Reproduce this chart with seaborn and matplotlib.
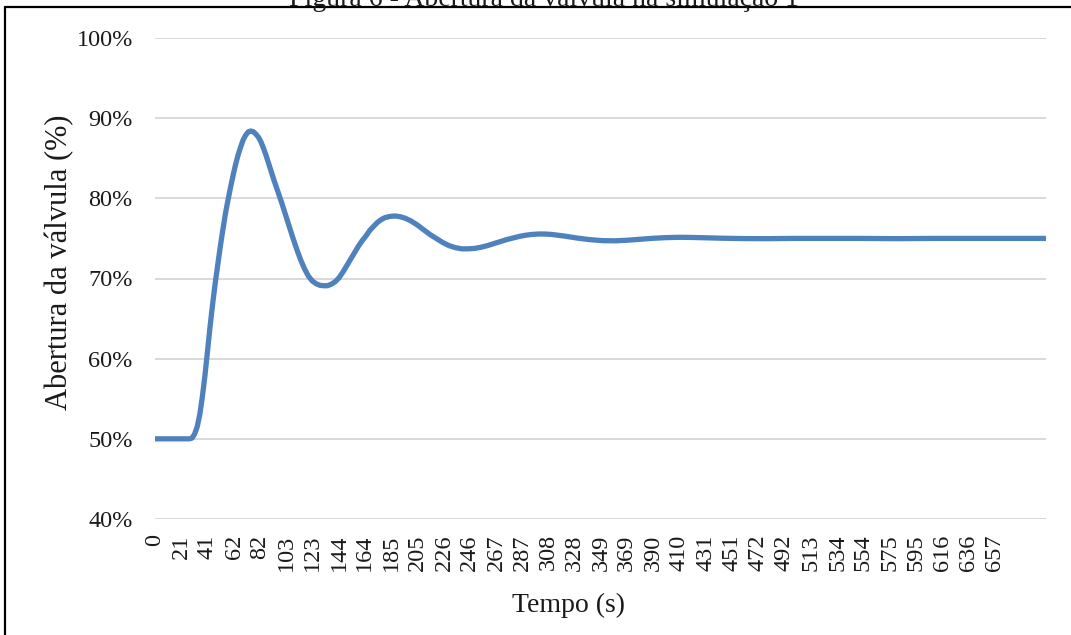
import matplotlib
matplotlib.use("Agg")
import matplotlib.pyplot as plt
from matplotlib.lines import Line2D
import seaborn as sns
import pandas as pd

# Valve opening (%) over time (s) for simulation 1
tempo_s = [0, 10, 20, 27, 29, 31, 33, 35, 37, 39, 41, 43, 45, 47, 49, 51, 53,
           55, 57, 59, 61, 63, 65, 67, 69, 71, 73, 75, 77, 79, 81, 83, 85, 87,
           90, 93, 96, 99, 102, 105, 108, 111, 114, 117, 120, 123, 126, 129,
           132, 135, 138, 141, 144, 147, 150, 153, 156, 159, 162, 165, 168,
           171, 174, 177, 180, 184, 188, 192, 196, 200, 205, 210, 215, 220,
           225, 230, 235, 240, 245, 250, 255, 260, 265, 270, 275, 280, 285,
           290, 295, 300, 305, 310, 315, 320, 330, 340, 350, 360, 370, 380,
           390, 400, 410, 420, 430, 445, 460, 480, 500, 520, 550, 580, 610,
           650, 697]
abertura_pct = [50.0, 50.0, 50.0, 50.0, 50.1, 50.6, 51.5, 53.0, 55.2, 57.8,
                60.8, 63.9, 66.7, 69.3, 71.6, 73.9, 76.0, 78.0, 79.7, 81.3,
                82.8, 84.2, 85.4, 86.4, 87.3, 87.9, 88.3, 88.4, 88.3, 88.0,
                87.6, 87.0, 86.2, 85.3, 83.8, 82.3, 80.9, 79.5, 78.0, 76.5,
                75.0, 73.6, 72.3, 71.2, 70.3, 69.7, 69.35, 69.15, 69.1, 69.1,
                69.3, 69.6, 70.1, 70.8, 71.6, 72.4, 73.2, 74.0, 74.7, 75.3,
                76.0, 76.5, 77.0, 77.35, 77.6, 77.75, 77.8, 77.7, 77.5, 77.2,
                76.7, 76.1, 75.5, 75.0, 74.5, 74.1, 73.85, 73.7, 73.7, 73.75,
                73.9, 74.1, 74.35, 74.6, 74.85, 75.05, 75.25, 75.4, 75.5,
                75.55, 75.55, 75.5, 75.4, 75.3, 75.05, 74.85, 74.72, 74.7,
                74.78, 74.9, 75.02, 75.1, 75.14, 75.12, 75.08, 75.02, 74.98,
                74.97, 75.0, 75.0, 75.0, 74.97, 75.0, 75.0, 75.0]

x_tick_labels = ["0", "21", "41", "62", "82", "103", "123", "144", "164", "185",
                 "205", "226", "246", "267", "287", "308", "328", "349", "369",
                 "390", "410", "431", "451", "472", "492", "513", "534", "554",
                 "575", "595", "616", "636", "657"]
y_ticks = [40, 50, 60, 70, 80, 90, 100]

df = pd.DataFrame({"Tempo (s)": tempo_s, "Abertura": abertura_pct})

sns.set_theme(style="white")
plt.rcParams["font.family"] = ["Liberation Serif", "DejaVu Serif"]

fig = plt.figure(figsize=(10.71, 6.35), dpi=100)
ax = fig.add_axes([155 / 1071, 1 - 519 / 635, (1046 - 155) / 1071, (519 - 38) / 635])

sns.lineplot(data=df, x="Tempo (s)", y="Abertura", ax=ax, color="#4F81BD",
             linewidth=3.8, solid_capstyle="round", solid_joinstyle="round")

ax.set_xlim(0, 697)
ax.set_ylim(40, 100)
ax.set_yticks(y_ticks)
ax.set_yticklabels([f"{v}%" for v in y_ticks], fontsize=17.5, color="#1a1a1a")
ax.set_xticks([float(s) for s in x_tick_labels])
ax.set_xticklabels(x_tick_labels, rotation=90, fontsize=17.5, color="#1a1a1a")
ax.tick_params(axis="x", length=0, pad=11)
ax.tick_params(axis="y", length=0, pad=16)

ax.yaxis.grid(True, color="#D9D9D9", linewidth=1.4)
ax.xaxis.grid(False)
ax.set_axisbelow(True)
for s in ax.spines.values():
    s.set_visible(False)

ax.set_xlabel("")
ax.set_ylabel("")
fig.text(569 / 1071, 1 - 605 / 635, "Tempo (s)", ha="center", va="center",
         fontsize=20, color="#1a1a1a")
fig.text(60 / 1071, 1 - 262 / 635, "Abertura da válvula (%)", ha="center",
         va="center", rotation=90, fontsize=22, color="#1a1a1a")

# Caption above the chart frame
fig.text(544 / 1071, 1 - 6 / 635, "Figura 6 - Abertura da válvula na simulação 1",
         ha="center", va="baseline", fontsize=20, color="#1a1a1a")

# Chart frame
fig.add_artist(Line2D([5 / 1071, 1.0], [1 - 7 / 635, 1 - 7 / 635],
                      transform=fig.transFigure, color="black", linewidth=1.6))
fig.add_artist(Line2D([5 / 1071, 5 / 1071], [0.0, 1 - 7 / 635],
                      transform=fig.transFigure, color="black", linewidth=1.6))

fig.savefig("out.png", dpi=100)
